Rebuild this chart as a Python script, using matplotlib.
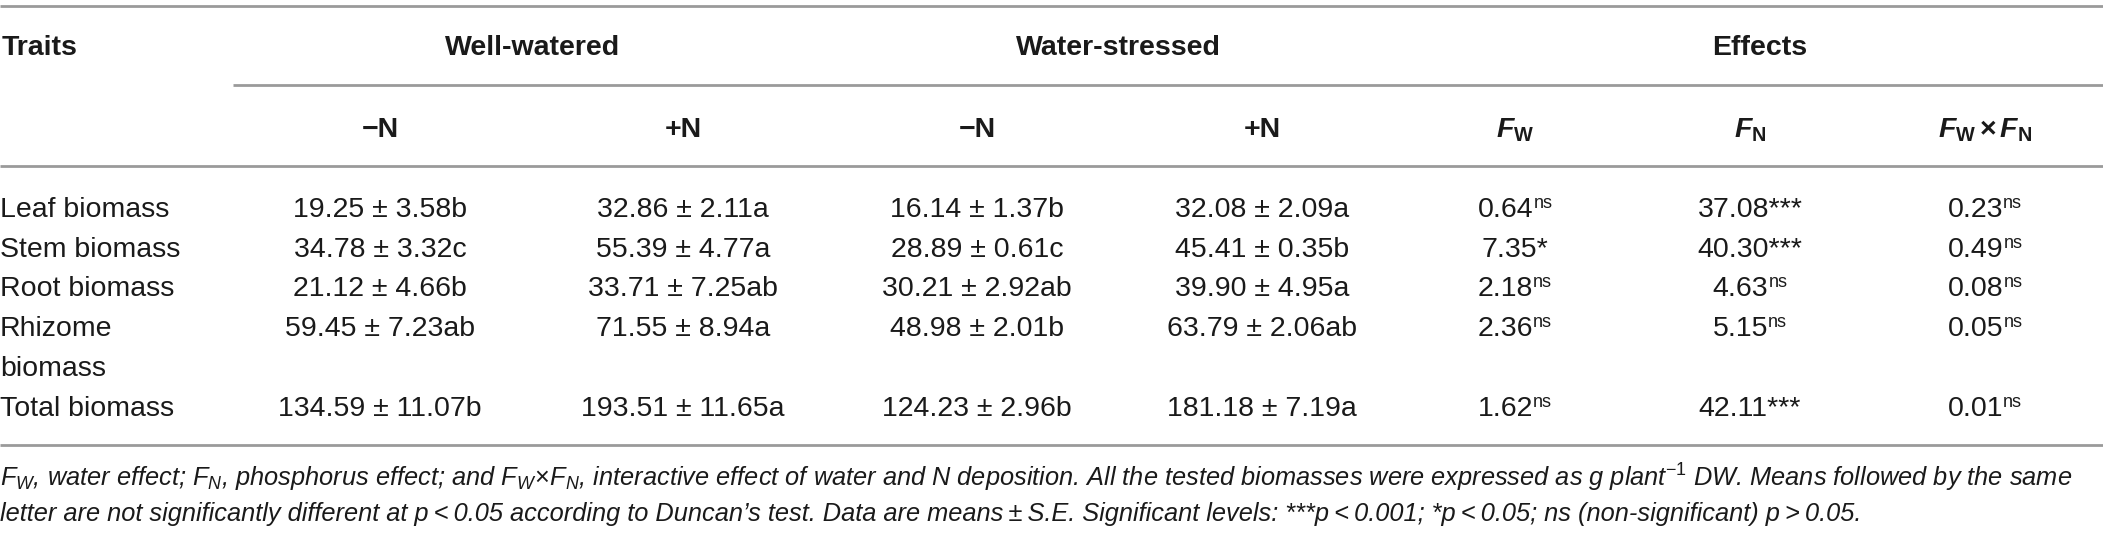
import matplotlib
matplotlib.use("Agg")
import matplotlib.pyplot as plt

plt.rcParams['font.family'] = ['Liberation Sans', 'DejaVu Sans']
plt.rcParams['mathtext.fontset'] = 'custom'
plt.rcParams['mathtext.rm'] = 'Liberation Sans'
plt.rcParams['mathtext.it'] = 'Liberation Sans:italic'
plt.rcParams['mathtext.bf'] = 'Liberation Sans:bold'
plt.rcParams['mathtext.bfit'] = 'Liberation Sans:italic:bold'

# ---------------- data ----------------
traits = ["Leaf biomass", "Stem biomass", "Root biomass", "Rhizome\nbiomass", "Total biomass"]

ww_minus_mean = [19.25, 34.78, 21.12, 59.45, 134.59]
ww_minus_se = [3.58, 3.32, 4.66, 7.23, 11.07]
ww_minus_letter = ["b", "c", "b", "ab", "b"]

ww_plus_mean = [32.86, 55.39, 33.71, 71.55, 193.51]
ww_plus_se = [2.11, 4.77, 7.25, 8.94, 11.65]
ww_plus_letter = ["a", "a", "ab", "a", "a"]

ws_minus_mean = [16.14, 28.89, 30.21, 48.98, 124.23]
ws_minus_se = [1.37, 0.61, 2.92, 2.01, 2.96]
ws_minus_letter = ["b", "c", "ab", "b", "b"]

ws_plus_mean = [32.08, 45.41, 39.90, 63.79, 181.18]
ws_plus_se = [2.09, 0.35, 4.95, 2.06, 7.19]
ws_plus_letter = ["a", "b", "a", "ab", "a"]

f_water = [0.64, 7.35, 2.18, 2.36, 1.62]
f_water_sig = ["ns", "*", "ns", "ns", "ns"]
f_nitro = [37.08, 40.30, 4.63, 5.15, 42.11]
f_nitro_sig = ["***", "***", "ns", "ns", "***"]
f_inter = [0.23, 0.49, 0.08, 0.05, 0.01]
f_inter_sig = ["ns", "ns", "ns", "ns", "ns"]

groups = ["Well-watered", "Water-stressed", "Effects"]
sub_headers = ["\u2212N", "+N", "\u2212N", "+N",
               r"$\mathbfit{F}_{\mathbf{W}}$",
               r"$\mathbfit{F}_{\mathbf{N}}$",
               r"$\mathbfit{F}_{\mathbf{W}}\,\mathbf{\times}\,\mathbfit{F}_{\mathbf{N}}$"]

foot1 = (r"$F_W$, water effect; $F_N$, phosphorus effect; and $F_W\!\times\!F_N$, interactive effect of "
         r"water and N deposition. All the tested biomasses were expressed as g plant$^{-1}$ DW. "
         r"Means followed by the same")
foot2 = ("letter are not significantly different at p\u2009<\u20090.05 according to Duncan\u2019s test. "
         "Data are means\u2009\u00b1\u2009S.E. Significant levels: ***p\u2009<\u20090.001; "
         "*p\u2009<\u20090.05; ns (non-significant) p\u2009>\u20090.05.")

# ---------------- layout ----------------
W, H = 2103, 540
col_x = [380, 683, 977, 1262, 1515, 1750, 1985]
group_x = [533, 1118, 1760]
row_base = [217, 257, 296, 336, 416]
line_gap = 40
fs = 20.5
sup_fs = 13
txt = '#1a1a1a'
rule = '#9a9a9a'


def mean_cell(m, s, l):
    return f"{m:.2f} \u00b1 {s:.2f}{l}"


fig = plt.figure(figsize=(W / 100, H / 100), dpi=100)
ax = fig.add_axes([0, 0, 1, 1])
ax.set_xlim(0, W)
ax.set_ylim(H, 0)
ax.axis('off')

# rules
ax.hlines([6, 166, 445], 0, W, color=rule, lw=2)
ax.hlines(85, 233, W, color=rule, lw=2)

# headers
ax.text(2, 55, "Traits", fontsize=fs, weight='bold', color=txt, va='baseline')
for gx, g in zip(group_x, groups):
    ax.text(gx, 55, g, fontsize=fs, weight='bold', color=txt, ha='center', va='baseline')
for cx, h in zip(col_x, sub_headers):
    ax.text(cx, 137, h, fontsize=fs, weight='bold', color=txt, ha='center', va='baseline')

# body: treatment means
mean_cols = [
    [mean_cell(*t) for t in zip(ww_minus_mean, ww_minus_se, ww_minus_letter)],
    [mean_cell(*t) for t in zip(ww_plus_mean, ww_plus_se, ww_plus_letter)],
    [mean_cell(*t) for t in zip(ws_minus_mean, ws_minus_se, ws_minus_letter)],
    [mean_cell(*t) for t in zip(ws_plus_mean, ws_plus_se, ws_plus_letter)],
]

for i, name in enumerate(traits):
    for k, part in enumerate(name.split("\n")):
        ax.text(0, row_base[i] + k * line_gap, part, fontsize=fs, color=txt, va='baseline')
    for cx, col in zip(col_x[:4], mean_cols):
        ax.text(cx, row_base[i], col[i], fontsize=fs, color=txt, ha='center', va='baseline')

# body: F values with small raised "ns"
effect_cols = [(f_water, f_water_sig), (f_nitro, f_nitro_sig), (f_inter, f_inter_sig)]
pairs = []
for cx, (vals, sigs) in zip(col_x[4:], effect_cols):
    for i, (v, s) in enumerate(zip(vals, sigs)):
        if s == "ns":
            tv = ax.text(cx, row_base[i], f"{v:.2f}", fontsize=fs, color=txt, va='baseline')
            ts = ax.text(cx, row_base[i] - 9, "ns", fontsize=sup_fs, color=txt, va='baseline')
            pairs.append((cx, tv, ts))
        else:
            ax.text(cx, row_base[i], f"{v:.2f}{s}", fontsize=fs, color=txt, ha='center', va='baseline')

# footnote
t1 = ax.text(0, 487, foot1, fontsize=17, style='italic', color=txt, va='baseline')
t2 = ax.text(0, 521, foot2, fontsize=17, style='italic', color=txt, va='baseline')

fig.canvas.draw()
r = fig.canvas.get_renderer()
for cx, tv, ts in pairs:
    wv = tv.get_window_extent(r).width
    ws = ts.get_window_extent(r).width
    left = cx - (wv + ws) / 2
    tv.set_x(left)
    ts.set_x(left + wv)

w1 = t1.get_window_extent(r).width
new_fs = 17 * 2080 / w1
t1.set_fontsize(new_fs)
t2.set_fontsize(new_fs)

fig.savefig("out.png", dpi=100, facecolor='white')
